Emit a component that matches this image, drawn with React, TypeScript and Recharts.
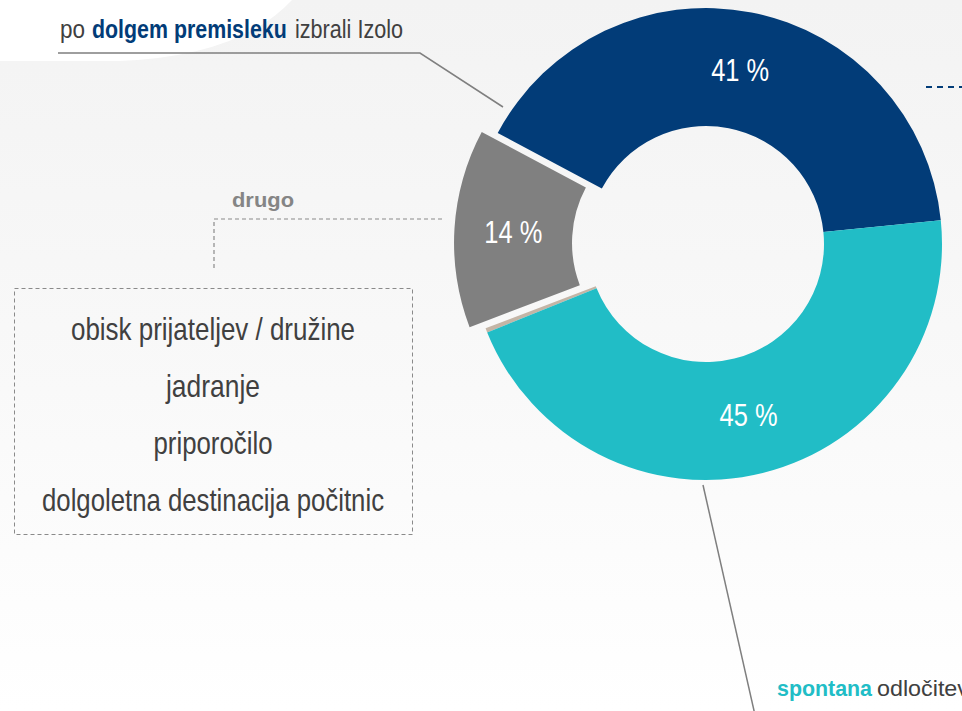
import React from "react";
import { PieChart, Pie, Cell } from "recharts";

const categories = ["po dolgem premisleku", "drugo", "ostalo", "spontana odločitev"];
const shares = [40.6, 13.6, 0.3, 45.5];
const shareLabels = ["41 %", "14 %", "", "45 %"];
const colors = ["#023C78", "#808080", "#C4B5A6", "#21BDC6"];
const explodedIndex = 1;
const otherReasons = [
  "obisk prijateljev / družine",
  "jadranje",
  "priporočilo",
  "dolgoletna destinacija počitnic",
];
const otherReasonWidths = [284, 94, 119, 342];

const data = categories.map((name, i) => ({ name, value: shares[i], label: shareLabels[i] }));

const FONT = "'Liberation Sans', Arial, sans-serif";
const RAD = Math.PI / 180;

const W = 962;
const H = 711;
const CX = 706;
const CY = 244;
const RI = 118;
const RO = 236;
const EXPLODE = 16;
const START = 5.8;

function makeLabel(onlyIndex: number | null, skipIndex: number | null) {
  return (props: any) => {
    const { cx, cy, midAngle, innerRadius, outerRadius, index } = props;
    if (onlyIndex !== null && index !== onlyIndex) return null;
    if (skipIndex !== null && index === skipIndex) return null;
    const lbl = data[index].label;
    if (!lbl) return null;
    const r = (innerRadius + outerRadius) / 2;
    const x = cx + r * Math.cos(-midAngle * RAD);
    const y = cy + r * Math.sin(-midAngle * RAD);
    return (
      <text
        x={x}
        y={y}
        fill="#ffffff"
        textAnchor="middle"
        dominantBaseline="central"
        textLength={58}
        lengthAdjust="spacingAndGlyphs"
        style={{ fontFamily: FONT, fontSize: 31 }}
      >
        {lbl}
      </text>
    );
  };
}

export default function App() {
  const midGray = START + (shares[0] + shares[1] / 2) * 3.6;
  const ex = CX + EXPLODE * Math.cos(midGray * RAD);
  const ey = CY - EXPLODE * Math.sin(midGray * RAD);
  return (
    <div style={{ position: "absolute", left: 0, top: 0, width: W, height: H, overflow: "hidden" }}>
      <svg width={W} height={H} style={{ position: "absolute", left: 0, top: 0 }}>
        <defs>
          <linearGradient id="bg" x1="0" y1="0" x2="0" y2="1">
            <stop offset="0" stopColor="#f3f3f3" />
            <stop offset="0.55" stopColor="#f9f9f9" />
            <stop offset="1" stopColor="#ffffff" />
          </linearGradient>
        </defs>
        <rect x={0} y={0} width={W} height={H} fill="url(#bg)" />
        <path d="M0,0 L292,0 Q240,56 120,61 L0,61 Z" fill="#ffffff" />
      </svg>
      <div style={{ position: "absolute", left: 0, top: 0 }}>
        <PieChart width={W} height={H} margin={{ top: 0, right: 0, bottom: 0, left: 0 }}>
          <Pie
            data={data}
            dataKey="value"
            cx={CX}
            cy={CY}
            innerRadius={RI}
            outerRadius={RO}
            startAngle={START}
            endAngle={START + 360}
            stroke="none"
            labelLine={false}
            label={makeLabel(null, explodedIndex)}
            isAnimationActive={false}
          >
            {data.map((d, i) => (
              <Cell key={d.name} fill={i === explodedIndex ? "transparent" : colors[i]} stroke="none" />
            ))}
          </Pie>
          <Pie
            data={data}
            dataKey="value"
            cx={ex}
            cy={ey}
            innerRadius={RI}
            outerRadius={RO}
            startAngle={START}
            endAngle={START + 360}
            stroke="none"
            labelLine={false}
            label={makeLabel(explodedIndex, null)}
            isAnimationActive={false}
          >
            {data.map((d, i) => (
              <Cell key={d.name} fill={i === explodedIndex ? colors[i] : "transparent"} stroke="none" />
            ))}
          </Pie>
        </PieChart>
      </div>
      <svg width={W} height={H} style={{ position: "absolute", left: 0, top: 0, pointerEvents: "none" }}>
        <text transform="translate(60,38) scale(0.9,1)" x={0} y={0} style={{ fontFamily: FONT, fontSize: 25 }} fill="#404040">
          po
        </text>
        <text transform="translate(92,38) scale(0.855,1)" x={0} y={0} style={{ fontFamily: FONT, fontSize: 25, fontWeight: "bold" }} fill="#023C78">
          dolgem premisleku
        </text>
        <text transform="translate(295,38) scale(0.864,1)" x={0} y={0} style={{ fontFamily: FONT, fontSize: 25 }} fill="#404040">
          izbrali Izolo
        </text>
        <polyline points="58,53 420,53 503,107" fill="none" stroke="#7f7f7f" strokeWidth={1.5} />

        <text
          x={232}
          y={207}
          textLength={62}
          lengthAdjust="spacingAndGlyphs"
          style={{ fontFamily: FONT, fontSize: 21, fontWeight: "bold" }}
          fill="#858585"
        >
          drugo
        </text>
        <polyline points="442,219 214,219 214,268" fill="none" stroke="#8a8a8a" strokeWidth={1.2} strokeDasharray="4 3" />
        <rect x={14.5} y={288.5} width={398} height={246} fill="none" stroke="#8a8a8a" strokeWidth={1} strokeDasharray="4 3" />
        {otherReasons.map((t, i) => (
          <text
            key={t}
            x={213}
            y={340 + i * 57}
            textAnchor="middle"
            textLength={otherReasonWidths[i]}
            lengthAdjust="spacingAndGlyphs"
            style={{ fontFamily: FONT, fontSize: 32 }}
            fill="#404040"
          >
            {t}
          </text>
        ))}

        <line x1={703} y1={485} x2={755} y2={715} stroke="#7f7f7f" strokeWidth={1.5} />
        <text
          x={777}
          y={696}
          textLength={95}
          lengthAdjust="spacingAndGlyphs"
          style={{ fontFamily: FONT, fontSize: 22, fontWeight: "bold" }}
          fill="#21BDC6"
        >
          spontana
        </text>
        <text
          x={877}
          y={696}
          textLength={92}
          lengthAdjust="spacingAndGlyphs"
          style={{ fontFamily: FONT, fontSize: 22 }}
          fill="#404040"
        >
          odločitev
        </text>

        <line x1={926} y1={87} x2={962} y2={87} stroke="#023C78" strokeWidth={2} strokeDasharray="6 5" />
      </svg>
    </div>
  );
}
